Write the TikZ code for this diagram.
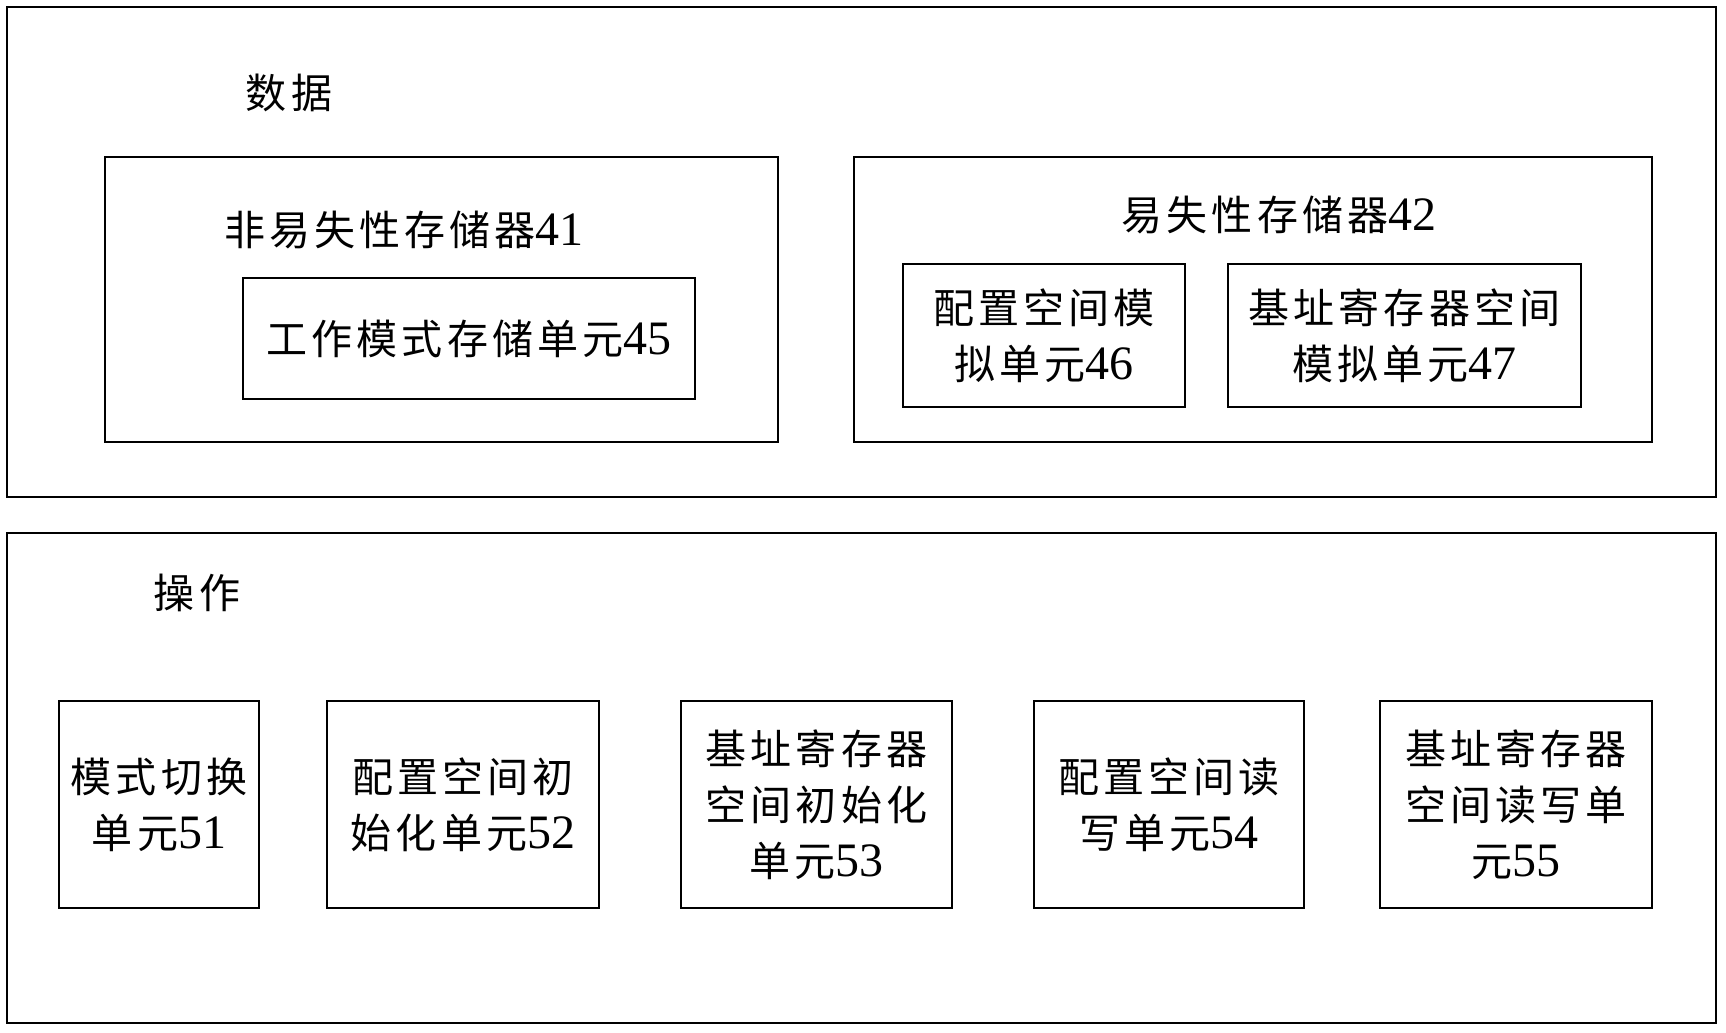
\documentclass[tikz,border=0pt]{standalone}
\usepackage{fontspec}
\setmainfont{Liberation Serif}
\newfontfamily\cjk[LetterSpace=10, Scale=0.855]{Noto Sans CJK SC}
\newcommand\zhx[1]{{\cjk #1}}
\usetikzlibrary{fit}
\tikzset{
  box/.style={draw=black, line width=1.1pt, inner sep=0pt, fill=none},
  lab/.style={inner sep=0pt, align=center, font=\fontsize{24pt}{28pt}\selectfont}
}
\begin{document}
\begin{tikzpicture}[x=0.5pt,y=-0.5pt]
\useasboundingbox[fill=white] (0,0) rectangle (1726,1033);
% data area
\node[box, fit={(7,7) (1716,497)}] (data) {};
\node[lab] (tdata) at (289,93) {\zhx{数据}};
\node[box, fit={(105,157) (778,442)}] (b41) {};
\node[lab] (t41) at (404,230) {\zhx{非易失性存储器}41};
\node[box, fit={(243,278) (695,399)}] (b45) {};
\node[lab] (t45) at (b45.center) {\zhx{工作模式存储单元}45};
\node[box, fit={(854,157) (1652,442)}] (b42) {};
\node[lab] (t42) at (1279,215) {\zhx{易失性存储器}42};
\node[box, fit={(903,264) (1185,407)}] (b46) {};
\node[lab] (t46) at (b46.center) {\zhx{配置空间模}\\\zhx{拟单元}46};
\node[box, fit={(1228,264) (1581,407)}] (b47) {};
\node[lab] (t47) at (b47.center) {\zhx{基址寄存器空间}\\\zhx{模拟单元}47};
% operation area
\node[box, fit={(7,533) (1716,1023)}] (op) {};
\node[lab] (top) at (197,593) {\zhx{操作}};
\node[box, fit={(59,701) (259,908)}] (b51) {};
\node[lab] (t51) at (b51.center) {\zhx{模式切换}\\\zhx{单元}51};
\node[box, fit={(327,701) (599,908)}] (b52) {};
\node[lab] (t52) at (b52.center) {\zhx{配置空间初}\\\zhx{始化单元}52};
\node[box, fit={(681,701) (952,908)}] (b53) {};
\node[lab] (t53) at (b53.center) {\zhx{基址寄存器}\\\zhx{空间初始化}\\\zhx{单元}53};
\node[box, fit={(1034,701) (1304,908)}] (b54) {};
\node[lab] (t54) at (b54.center) {\zhx{配置空间读}\\\zhx{写单元}54};
\node[box, fit={(1380,701) (1652,908)}] (b55) {};
\node[lab] (t55) at (b55.center) {\zhx{基址寄存器}\\\zhx{空间读写单}\\\zhx{元}55};
\end{tikzpicture}
\end{document}
